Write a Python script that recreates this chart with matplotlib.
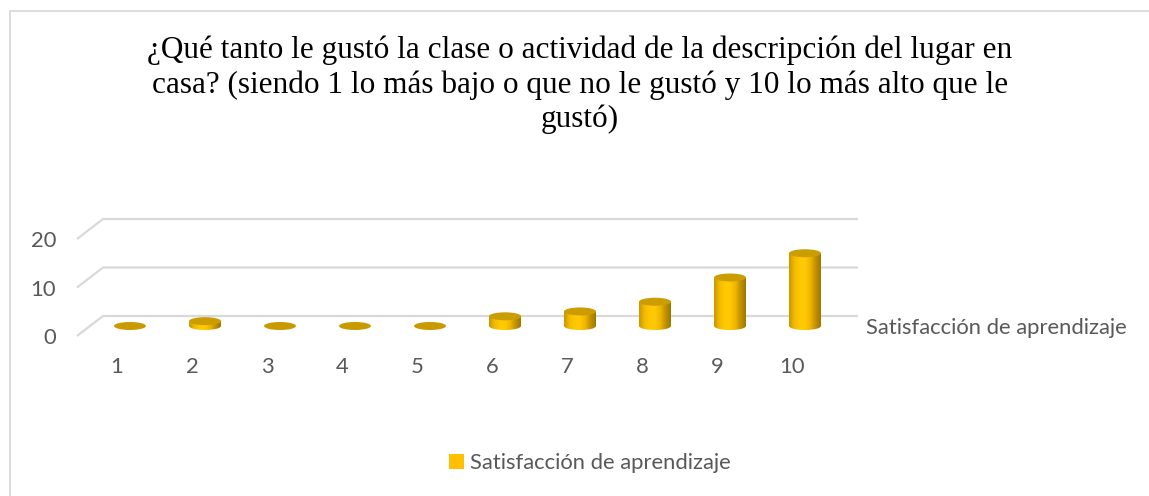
import numpy as np
import matplotlib.pyplot as plt
from matplotlib.patches import Ellipse, Rectangle, Patch
from matplotlib.colors import LinearSegmentedColormap
from matplotlib.lines import Line2D

# data
categorias = [1, 2, 3, 4, 5, 6, 7, 8, 9, 10]
satisfaccion = [0, 1, 0, 0, 0, 2, 3, 5, 10, 15]
y_ticks = [0, 10, 20]
serie = 'Satisfacción de aprendizaje'
titulo = ('¿Qué tanto le gustó la clase o actividad de la descripción del lugar en\n'
          'casa? (siendo 1 lo más bajo o que no le gustó y 10 lo más alto que le\n'
          'gustó)')

W, H = 1149, 496
fig = plt.figure(figsize=(W / 100, H / 100), dpi=100)
fig.patch.set_facecolor('white')

# plot box in pixels (front plane)
left, right, top, bottom = 77, 858, 200, 336
ax = fig.add_axes([left / W, 1 - bottom / H, (right - left) / W, (bottom - top) / H])
px_x = 75.0    # pixels per category
px_y = 4.85    # pixels per unit
x0 = 1 - (117 - left) / px_x
x1 = 1 + (right - 117) / px_x
DX = 26 / px_x   # depth offset
DY = 20 / px_y

grid_col = '#D9D9D9'
txt_col = '#595959'
font = 'Lato'
fs = 15.8

# back wall gridlines + floor diagonals
for v in y_ticks:
    ax.plot([x0, x0 + DX, x1], [v, v + DY, v + DY], color=grid_col, lw=1.6,
            clip_on=False, zorder=1, solid_capstyle='butt')

cmap = LinearSegmentedColormap.from_list('cyl', ['#C99700', '#F2BB00', '#FFC800', '#FFC905',
                                                 '#F0B600', '#C29200', '#A07800'])
grad = cmap(np.linspace(0, 1, 80))[None, :, :]

bw = 32 / px_x
eh = 8 / px_y
base = DY / 2
for c, v in zip(categorias, satisfaccion):
    cx = c + DX / 2
    if v == 0:
        ax.add_patch(Ellipse((cx, base), bw, eh, fc='#C99A00', ec='none', zorder=3))
        continue
    # bottom half of cylinder
    e_bot = Ellipse((cx, base), bw, eh, fc='none', ec='none', transform=ax.transData)
    ax.add_patch(e_bot)
    im = ax.imshow(grad, extent=(cx - bw / 2, cx + bw / 2, base - eh / 2, base),
                   aspect='auto', zorder=3, interpolation='bilinear')
    im.set_clip_path(e_bot)
    # body
    rect = Rectangle((cx - bw / 2, base), bw, v, fc='none', ec='none', transform=ax.transData)
    ax.add_patch(rect)
    im = ax.imshow(grad, extent=(cx - bw / 2, cx + bw / 2, base, base + v),
                   aspect='auto', zorder=3, interpolation='bilinear')
    im.set_clip_path(rect)
    # top cap
    ax.add_patch(Ellipse((cx, base + v), bw, eh, fc='#CC9D00', ec='none', zorder=4))

ax.set_xlim(x0, x1)
ax.set_ylim(0, (bottom - top) / px_y)
for s in ax.spines.values():
    s.set_visible(False)
ax.set_facecolor('none')
ax.set_xticks(categorias)
ax.set_xticklabels([str(c) for c in categorias])
ax.set_yticks(y_ticks)
ax.tick_params(length=0, colors=txt_col, labelsize=fs)
ax.tick_params(axis='y', pad=15)
ax.tick_params(axis='x', pad=15)
for lab in ax.get_xticklabels() + ax.get_yticklabels():
    lab.set_fontfamily(font)

# depth axis label
ax.annotate(serie, xy=(1.0, base - 0.4), xycoords=('axes fraction', 'data'),
            xytext=(6, 0), textcoords='offset points', ha='left', va='center',
            fontsize=fs, color=txt_col, family=font, annotation_clip=False)

# title
fig.text(580 / W, 1 - 127 / H, titulo, ha='center', va='baseline', ma='center',
         fontsize=22.5, family='Liberation Serif', color='black', linespacing=1.215)

# legend
fig.legend(handles=[Patch(fc='#FFC000', ec='none', label=serie)], loc='center',
           bbox_to_anchor=(590 / W, 1 - 463 / H), frameon=False,
           prop={'family': font, 'size': fs}, labelcolor=txt_col,
           handlelength=0.68, handleheight=0.68, handletextpad=0.3)

# chart border
fig.add_artist(Line2D([10 / W, 10 / W, 1.01], [-0.01, 1 - 11 / H, 1 - 11 / H],
                      transform=fig.transFigure, color=grid_col, lw=1.3))

fig.savefig('out.png', dpi=100)
